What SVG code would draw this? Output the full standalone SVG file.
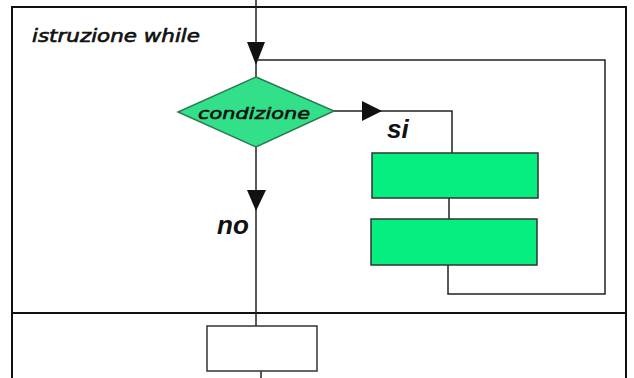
<svg xmlns="http://www.w3.org/2000/svg" width="634" height="378" viewBox="0 0 634 378">
  <style>
    .ln { stroke: #222; stroke-width: 1.5; fill: none; }
    .frame { stroke: #111; stroke-width: 2; fill: none; }
    .blk { fill: #05ef80; stroke: #333; stroke-width: 1.5; }
    .cmc { font-family: "DejaVu Sans", sans-serif; font-style: italic; fill: #111; stroke: #111; stroke-width: 0.6; }
    .lbl { font-family: "Liberation Sans", Arial, sans-serif; font-style: italic; font-weight: bold; fill: #111; }
  </style>
  <rect width="634" height="378" fill="#fff"/>

  <!-- while frame and the section below it -->
  <g id="frame">
    <path class="frame" d="M12,380 L12,7 L626,7 L626,380"/>
    <line class="frame" x1="12" y1="313" x2="626" y2="313"/>
    <text class="cmc" x="32" y="42" font-size="17" textLength="168" lengthAdjust="spacingAndGlyphs">istruzione while</text>
  </g>

  <!-- connectors -->
  <g id="connectors">
    <line class="ln" x1="256" y1="0" x2="256" y2="77"/>
    <path d="M247,42 L265,42 L256,65 z" fill="#111"/>
    <polyline class="ln" points="256,60 605,60 605,294 448,294 448,265"/>
    <polyline class="ln" points="334,111 452,111 452,153"/>
    <path d="M362,101 L382,111 L362,121 z" fill="#111"/>
    <line class="ln" x1="449" y1="198" x2="449" y2="219"/>
    <line class="ln" x1="256" y1="147" x2="256" y2="326"/>
    <path d="M247,190 L266,190 L256,211 z" fill="#111"/>
    <line class="ln" x1="261" y1="371" x2="261" y2="378"/>
    <text class="lbl" x="387" y="138" font-size="26">si</text>
    <text class="lbl" x="217" y="234" font-size="26">no</text>
  </g>

  <g id="condizione">
    <polygon points="256,77 334,111 256,147 178,112" fill="#33e08a" stroke="#2a7a50" stroke-width="1.5"/>
    <text class="cmc" x="254" y="119" font-size="16" text-anchor="middle" textLength="112" lengthAdjust="spacingAndGlyphs">condizione</text>
  </g>

  <g id="blocco1">
    <rect class="blk" x="372" y="153" width="166" height="45"/>
  </g>
  <g id="blocco2">
    <rect class="blk" x="371" y="219" width="166" height="46"/>
  </g>
  <g id="blocco3">
    <rect x="207" y="326" width="110" height="45" fill="#fff" stroke="#333" stroke-width="1.5"/>
  </g>
</svg>
